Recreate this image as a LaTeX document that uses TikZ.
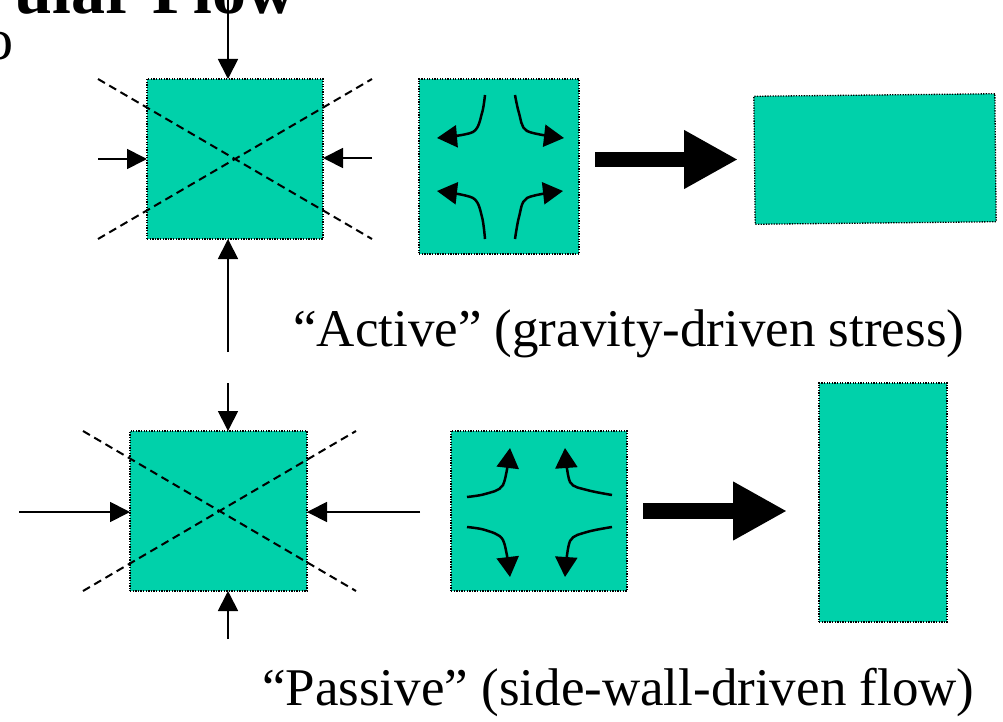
\documentclass[tikz,border=0pt]{standalone}
\usepackage{fontspec}
\setmainfont{Liberation Serif}
\usetikzlibrary{arrows.meta}
\definecolor{tealfill}{RGB}{0,209,170}
\begin{document}
\begin{tikzpicture}[x=1pt,y=-1pt,
 box/.style={draw=black, line width=1.3pt, dash pattern=on 1.3pt off 1.3pt, fill=tealfill, inner sep=0pt, outer sep=0pt},
 sarrow/.style={line width=1.8pt, -{Triangle[length=20pt,width=20pt]}},
 carrow/.style={line width=2.5pt, -{Triangle[length=20pt,width=22pt]}},
 barrow/.style={line width=15.5pt, -{Triangle[length=54pt,width=55pt]}},
 diag/.style={line width=2pt, dash pattern=on 8pt off 5pt},
 lbl/.style={font=\fontsize{53}{60}\selectfont, inner sep=0pt, anchor=base west}]
\useasboundingbox (0,0) rectangle (1003,722);
\clip (0,0) rectangle (1003,722);

% cropped title fragments
\node[font=\fontsize{68}{72}\selectfont\bfseries, anchor=base east, inner sep=0pt] (title) at (296,14) {ular Flow};
\node[font=\fontsize{58}{64}\selectfont, anchor=base east, inner sep=0pt] (sub) at (14,60) {o};

% boxes
\node[box, minimum width=176pt, minimum height=160pt] (A1) at (235,159) {};
\node[box, minimum width=160pt, minimum height=175pt] (A2) at (499,166.5) {};
\node[box, minimum width=241pt, minimum height=128pt, rotate=0.6] (A3) at (875,159) {};
\node[box, minimum width=177pt, minimum height=160pt] (B1) at (218.5,511) {};
\node[box, minimum width=176pt, minimum height=160pt] (B2) at (539,511) {};
\node[box, minimum width=128pt, minimum height=239pt] (B3) at (883,502.5) {};

% dashed diagonals
\draw[diag] (98,79) -- (372,239);
\draw[diag] (98,239) -- (372,79);
\draw[diag] (83,431) -- (356,591);
\draw[diag] (83,591) -- (356,431);

% stress arrows, upper square
\coordinate (tA) at (228,0);
\coordinate (lA) at (98,159);
\coordinate (rA) at (372,158);
\coordinate (mA) at (228,352);
\draw[sarrow] (tA) -- (tA |- A1.north);
\draw[sarrow] (lA) -- (A1.west |- lA);
\draw[sarrow] (rA) -- (A1.east |- rA);
\draw[sarrow] (mA) -- (mA |- A1.south);

% stress arrows, lower square
\coordinate (mB) at (228,383);
\coordinate (lB) at (19,512);
\coordinate (rB) at (420,512);
\coordinate (bB) at (228,639);
\draw[sarrow] (mB) -- (mB |- B1.north);
\draw[sarrow] (lB) -- (B1.west |- lB);
\draw[sarrow] (rB) -- (B1.east |- rB);
\draw[sarrow] (bB) -- (bB |- B1.south);

% flow arrows, active
\draw[carrow] plot[smooth, tension=0.5] coordinates {(485,95) (482,113) (473,132) (437,138)};
\draw[carrow] plot[smooth, tension=0.5] coordinates {(515,95) (519,113) (527,131) (564,138)};
\draw[carrow] plot[smooth, tension=0.5] coordinates {(485,239) (482,217) (473,198) (437,191)};
\draw[carrow] plot[smooth, tension=0.5] coordinates {(515,239) (519,217) (527,198) (563,191)};

% flow arrows, passive
\draw[carrow] plot[smooth, tension=0.5] coordinates {(467,497) (485,494) (503,485) (510,448)};
\draw[carrow] plot[smooth, tension=0.5] coordinates {(612,495) (587,490) (570,482) (565,448)};
\draw[carrow] plot[smooth, tension=0.5] coordinates {(467,527) (485,530) (503,540) (510,577)};
\draw[carrow] plot[smooth, tension=0.5] coordinates {(612,527) (587,532) (570,541) (565,577)};

% big arrows
\coordinate (bA1) at (595,159.5);
\coordinate (bA2) at (738,159.5);
\coordinate (bB1) at (643,511);
\coordinate (bB2) at (787,511);
\draw[barrow] (bA1) -- (bA2);
\draw[barrow] (bB1) -- (bB2);

% labels
\node[lbl] (active) at (293,346) {“Active” (gravity-driven stress)};
\node[lbl] (passive) at (262,705) {“Passive” (side-wall-driven flow)};
\end{tikzpicture}
\end{document}
